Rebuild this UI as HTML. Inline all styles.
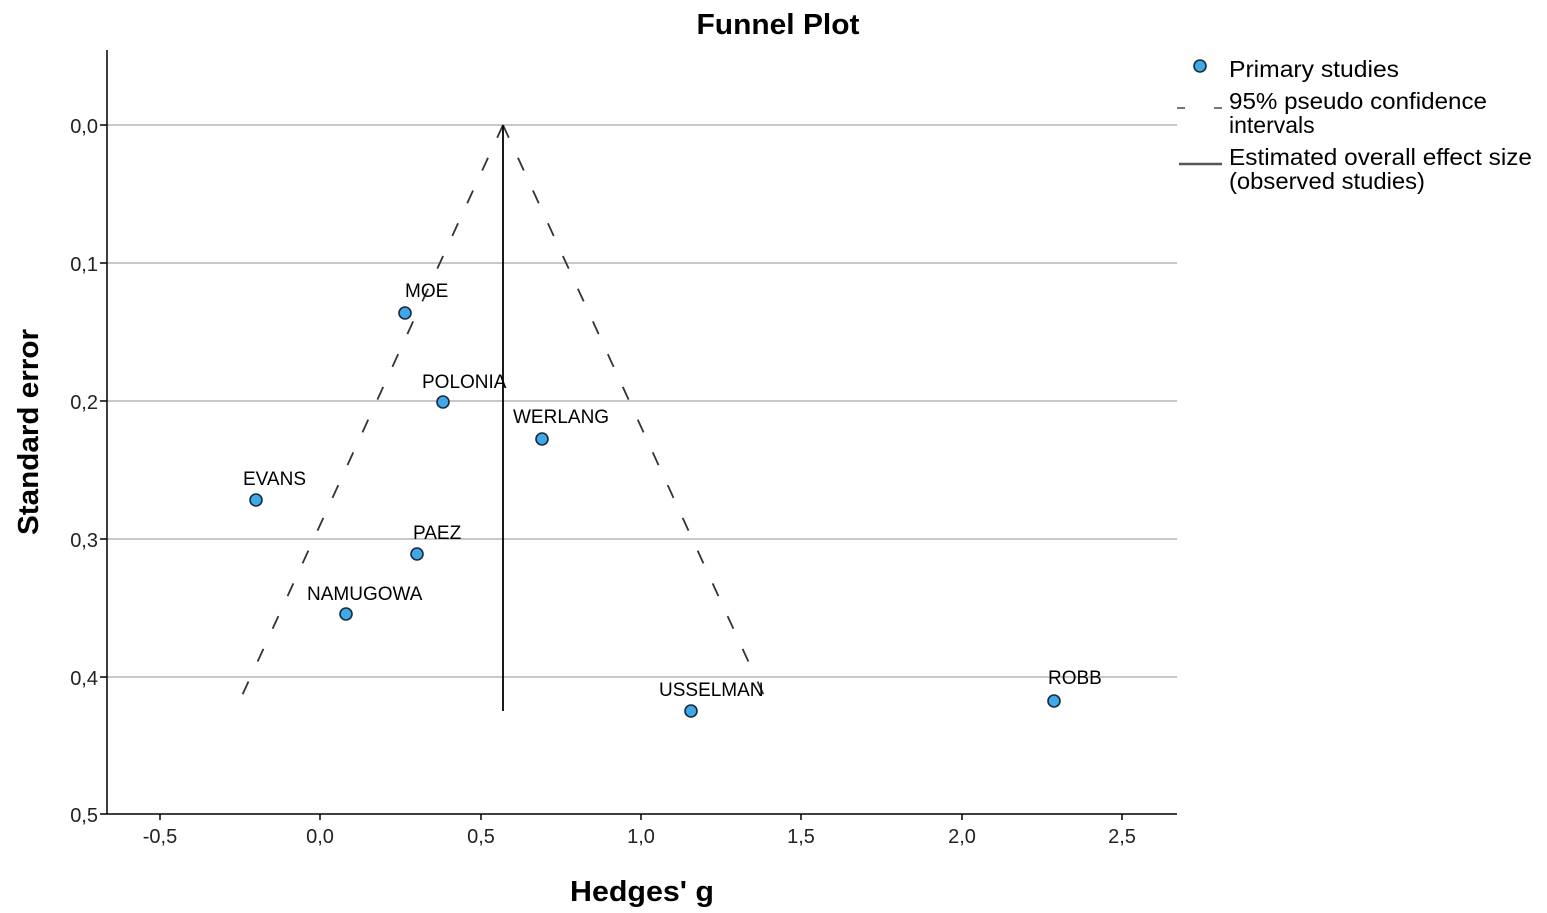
<!DOCTYPE html>
<html><head><meta charset="utf-8"><style>
html,body{margin:0;padding:0;background:#fff;}
svg{display:block;font-family:"Liberation Sans",Arial,sans-serif;}
</style></head><body>
<svg width="1547" height="913" viewBox="0 0 1547 913" xmlns="http://www.w3.org/2000/svg">
<rect width="1547" height="913" fill="#fff"/>
<text x="778" y="34" text-anchor="middle" font-size="29" font-weight="bold" fill="#000" textLength="163" lengthAdjust="spacingAndGlyphs">Funnel Plot</text>
<g stroke="#b5b5b5" stroke-width="1.5">
<line x1="107" y1="125" x2="1177" y2="125"/>
<line x1="107" y1="263" x2="1177" y2="263"/>
<line x1="107" y1="401" x2="1177" y2="401"/>
<line x1="107" y1="539" x2="1177" y2="539"/>
<line x1="107" y1="677" x2="1177" y2="677"/>
</g>
<line x1="107" y1="50" x2="107" y2="814" stroke="#000" stroke-width="1.5"/>
<line x1="107" y1="814" x2="1177" y2="814" stroke="#000" stroke-width="1.5"/>
<g stroke="#000" stroke-width="1.5">
<line x1="100" y1="125" x2="107" y2="125"/><line x1="100" y1="263" x2="107" y2="263"/>
<line x1="100" y1="401" x2="107" y2="401"/><line x1="100" y1="539" x2="107" y2="539"/>
<line x1="100" y1="677" x2="107" y2="677"/><line x1="100" y1="814" x2="107" y2="814"/>
<line x1="160" y1="814" x2="160" y2="820"/><line x1="320" y1="814" x2="320" y2="820"/>
<line x1="481" y1="814" x2="481" y2="820"/><line x1="641" y1="814" x2="641" y2="820"/>
<line x1="801" y1="814" x2="801" y2="820"/><line x1="962" y1="814" x2="962" y2="820"/>
<line x1="1122" y1="814" x2="1122" y2="820"/>
</g>
<g font-size="20" fill="#222" text-anchor="end">
<text x="98" y="133">0,0</text><text x="98" y="271">0,1</text><text x="98" y="409">0,2</text>
<text x="98" y="547">0,3</text><text x="98" y="685">0,4</text><text x="98" y="822">0,5</text>
</g>
<g font-size="20" fill="#222" text-anchor="middle">
<text x="160" y="843">-0,5</text><text x="320" y="843">0,0</text><text x="481" y="843">0,5</text>
<text x="641" y="843">1,0</text><text x="801" y="843">1,5</text><text x="962" y="843">2,0</text>
<text x="1122" y="843">2,5</text>
</g>
<text x="642" y="901" text-anchor="middle" font-size="29" font-weight="bold" textLength="144" lengthAdjust="spacingAndGlyphs">Hedges' g</text>
<text transform="translate(38,432) rotate(-90)" text-anchor="middle" font-size="29" font-weight="bold" textLength="206" lengthAdjust="spacingAndGlyphs">Standard error</text>
<g stroke="#333" stroke-width="1.8" stroke-dasharray="14,22" fill="none">
<line x1="503" y1="125" x2="235" y2="711"/>
<line x1="503" y1="125" x2="771" y2="711"/>
</g>
<line x1="503" y1="125" x2="503" y2="711" stroke="#000" stroke-width="1.8"/>
<g fill="#3ea8e8" stroke="#1a2a3a" stroke-width="1.6">
<circle cx="405" cy="313" r="6"/><circle cx="443" cy="402" r="6"/><circle cx="542" cy="439" r="6"/>
<circle cx="256" cy="500" r="6"/><circle cx="417" cy="554" r="6"/><circle cx="346" cy="614" r="6"/>
<circle cx="691" cy="711" r="6"/><circle cx="1054" cy="701" r="6"/>
</g>
<g font-size="19" fill="#000">
<text x="405" y="297">MOE</text>
<text x="422" y="388">POLONIA</text>
<text x="513" y="423">WERLANG</text>
<text x="243" y="485">EVANS</text>
<text x="413" y="539">PAEZ</text>
<text x="307" y="600">NAMUGOWA</text>
<text x="659" y="696">USSELMAN</text>
<text x="1048" y="684">ROBB</text>
</g>
<circle cx="1200" cy="66" r="6" fill="#3ea8e8" stroke="#1a2a3a" stroke-width="1.6"/>
<line x1="1177" y1="108" x2="1222" y2="108" stroke="#777" stroke-width="2" stroke-dasharray="8,29"/>
<line x1="1179" y1="164" x2="1222" y2="164" stroke="#555" stroke-width="2.5"/>
<g font-size="23" fill="#000">
<text x="1229" y="77" textLength="170" lengthAdjust="spacingAndGlyphs">Primary studies</text>
<text x="1229" y="109" textLength="258" lengthAdjust="spacingAndGlyphs">95% pseudo confidence</text>
<text x="1229" y="133">intervals</text>
<text x="1229" y="165" textLength="303" lengthAdjust="spacingAndGlyphs">Estimated overall effect size</text>
<text x="1229" y="189" textLength="196" lengthAdjust="spacingAndGlyphs">(observed studies)</text>
</g>
</svg>
</body></html>
